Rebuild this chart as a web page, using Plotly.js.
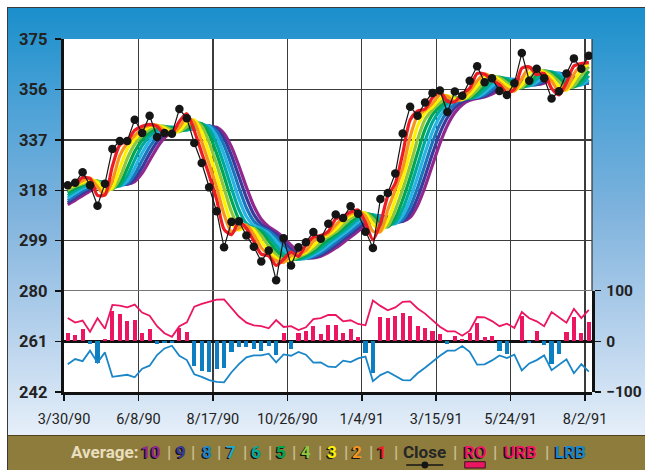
<!DOCTYPE html>
<html>
<head>
<meta charset="utf-8">
<script src="https://cdn.plot.ly/plotly-3.0.1.min.js"></script>
<style>
html,body{margin:0;padding:0;background:#fff;}
#wrap{position:relative;width:645px;height:470px;overflow:hidden;background:#fff;}
#frame{position:absolute;left:7px;top:7px;width:638px;height:428px;box-sizing:border-box;
  border-left:1.5px solid #3a3a3a;border-top:1.5px solid #3a3a3a;
  background:linear-gradient(to bottom,#1a8fcb 0%,#4aa1d6 22%,#7fb3dd 48%,#b2cfeb 74%,#e6eff9 100%);}
#band{position:absolute;left:7px;top:435px;width:638px;height:35px;box-sizing:border-box;
  background:#8e7c3c;border-left:1.5px solid #3a3a3a;border-top:1.5px solid #4d4219;}
#chart{position:absolute;left:0;top:0;width:645px;height:470px;z-index:2;}
</style>
</head>
<body>
<div id="wrap">
  <div id="frame"></div>
  <div id="band"></div>
  <div id="chart"></div>
</div>
<script>
// ---------------- data ----------------
const tickDates  = ['3/30/90','6/8/90','8/17/90','10/26/90','1/4/91','3/15/91','5/24/91','8/2/91'];
const tickWeeks  = [0,10,20,30,40,50,60,70];
const priceTicks = [242,261,280,299,318,337,356,375];
const oscTicks   = [-100,0,100];

// weekly closes before the first visible week (estimated from where the averages start)
const priorClose = [308,307,309,310,311,312,314,316,318,320.5];

// weekly closes, 3/30/90 .. 8/2/91 week
const close = [
  319.9,320.8,324.8,319.9,312.2,320.5,333.6,336.6,336.6,344.6,
  339.6,346.1,338.1,339.6,339.3,348.6,345.1,335.8,328.3,319.1,
  310.1,296.5,306.1,306.3,301.0,296.7,291.2,295.3,284.1,299.9,
  289.7,296.5,298.4,302.3,299.7,305.4,308.9,307.6,312.0,309.2,
  302.4,296.3,314.7,317.0,324.3,339.4,349.5,346.1,351.1,354.7,
  355.6,347.5,355.2,353.6,359.3,364.7,358.7,360.2,355.4,353.9,
  358.3,369.7,359.3,363.8,360.2,352.6,355.3,362.0,367.7,363.8,368.7
];

// Rainbow oscillator (RO) bars
const ro = [
  16.5,12.5,24.4,-5,-43.6,4.6,60.7,54,40,42,
  16.5,24.4,-5,-4,-4,26.4,18.5,-48,-58,-60,
  -54,-52,-21,-10.6,-12,-15,-18.5,-8.6,-26.4,16.5,
  -14.5,17,20.5,30,14.5,32,32,16.5,24.4,8.6,
  -22.4,-63,48,46,50,56,50,30,26.4,20.5,
  14.5,-5,10.6,4.6,16.5,36,8.6,10.6,-18.5,-24.4,
  1,50,-2.6,20.5,-6.6,-45.5,-24.4,18.5,48,16.5,38
];
// upper rainbow band
const urb = [
  46,37,41,19,45.5,25,72,70.6,67,72.6,
  56.8,50.8,30,16,9,30,37.6,68.6,74,78.5,
  82.5,83,65,49,37,31.7,30,25.7,42,28.4,
  30,22.4,27.7,44,46,52,52,39.6,41.6,34.3,
  31.7,80.5,70,61.4,67,78,79,65,54.8,41.6,
  29,19.8,19.8,11.2,21,48,47.5,40,30,35,
  26.4,58,45.5,39.6,30,58,48,37,64,46,62
];
// lower rainbow band
const lrb = [
  -45,-35,-39,-18.5,-42,-21.8,-70,-68.6,-66,-71,
  -54,-48,-27,-14,-8.6,-28.4,-37,-65,-70,-76.6,
  -80,-81,-61,-45,-31.7,-27.7,-27.7,-24.4,-41.6,-25.7,
  -28.4,-21,-26.4,-42,-41.6,-50,-51,-38,-41,-33.7,
  -30,-78.5,-66.7,-60,-68.6,-76.6,-77,-63,-52,-40,
  -28.4,-18.5,-18.5,-9.2,-20.5,-46,-45.5,-37.6,-27.7,-33,
  -26.4,-57.4,-43.6,-37,-27.7,-56.8,-46,-35.6,-63,-45,-60
];

const avgNames  = ['1','2','3','4','5','6','7','8','9','10'];
const avgColors = ['#ed1c24','#f7941d','#fff200','#8dc63f','#00a651','#00a99d','#27b4e3','#1b75bc','#3b3a98','#92278f'];

// ---------------- rainbow averages (recursive 2-period averages of the close) ----------------
const fullClose = priorClose.concat(close);
const averages = [];
let prev = fullClose;
for (let n = 0; n < 10; n++) {
  const cur = prev.map((v, i) => i === 0 ? v : (v + prev[i - 1]) / 2);
  averages.push(cur.slice(priorClose.length));
  prev = cur;
}

const weekPos = close.map((_, i) => i + 0.5);

// ---------------- styles ----------------
const FONT = 'Roboto,"Liberation Sans",sans-serif';
const PINK = '#ec1561', BLUE = '#0b7fc2', LBLUE = '#1a86c8';

const traces = [];
for (let n = 9; n >= 0; n--) {
  traces.push({
    x: weekPos, y: averages[n], name: 'Average ' + avgNames[n],
    type: 'scatter', mode: 'lines', xaxis: 'x', yaxis: 'y',
    line: {color: avgColors[n], width: 3.2, shape: 'spline', smoothing: 0.7},
    hoverinfo: 'skip'
  });
}
traces.push({
  x: weekPos, y: close, name: 'Close', type: 'scatter', mode: 'lines+markers',
  xaxis: 'x', yaxis: 'y',
  line: {color: '#151515', width: 1.2},
  marker: {color: '#151515', size: 8.5},
  hoverinfo: 'skip'
});
traces.push({
  x: weekPos, y: ro, name: 'RO', type: 'bar', xaxis: 'x', yaxis: 'y2', width: 0.56,
  marker: {color: ro.map(v => v >= 0 ? PINK : BLUE), line: {width: 0}},
  hoverinfo: 'skip'
});
traces.push({
  x: weekPos, y: urb, name: 'URB', type: 'scatter', mode: 'lines', xaxis: 'x', yaxis: 'y2',
  line: {color: PINK, width: 1.8}, hoverinfo: 'skip'
});
traces.push({
  x: weekPos, y: lrb, name: 'LRB', type: 'scatter', mode: 'lines', xaxis: 'x', yaxis: 'y2',
  line: {color: LBLUE, width: 1.8}, hoverinfo: 'skip'
});

// pixel -> paper helpers (plot area 64..591.7 x 39.3..392.3)
const PL = 64, PW = 527.7, PT = 39.3, PH = 353;
const xp = px => (px - PL) / PW;
const yp = py => (PT + PH - py) / PH;

// legend row
const SH = '-1.5px 1px 0px #141414';
const SEP = '#cbbf90';
const legendItems = [
  {t: 'Average:', x: 104, c: '#e9dfbf'},
  {t: '10', x: 151, c: '#92278f'},
  {t: '|', x: 168.7, c: SEP},
  {t: '9', x: 180.7, c: '#3b3a98'},
  {t: '|', x: 193.4, c: SEP},
  {t: '8', x: 206.6, c: '#1b86cc'},
  {t: '|', x: 219.3, c: SEP},
  {t: '7', x: 230.5, c: '#27a9c9'},
  {t: '|', x: 244.9, c: SEP},
  {t: '6', x: 255.9, c: '#00a99d'},
  {t: '|', x: 269.5, c: SEP},
  {t: '5', x: 281, c: '#00a651'},
  {t: '|', x: 294.2, c: SEP},
  {t: '4', x: 306.2, c: '#8dc63f'},
  {t: '|', x: 320.2, c: SEP},
  {t: '3', x: 332.1, c: '#fff200'},
  {t: '|', x: 345.7, c: SEP},
  {t: '2', x: 357.2, c: '#f7941d'},
  {t: '|', x: 370.4, c: SEP},
  {t: '1', x: 382.3, c: '#ed1c24'},
  {t: '|', x: 395.9, c: SEP},
  {t: 'Close', x: 424.5, c: '#262626'},
  {t: '|', x: 454.7, c: SEP},
  {t: 'RO', x: 474.9, c: PINK},
  {t: '|', x: 495, c: SEP},
  {t: 'URB', x: 520.6, c: PINK},
  {t: '|', x: 546.5, c: SEP},
  {t: 'LRB', x: 569.8, c: '#1b86cc'}
];
const annotations = legendItems.map(it => ({
  text: it.t, xref: 'paper', yref: 'paper', x: xp(it.x), y: yp(452),
  xanchor: 'center', yanchor: 'middle', showarrow: false,
  font: {family: FONT, size: 17, weight: 'bold', color: it.c,
         shadow: (it.t === '|' || it.t === 'Close' || it.t === 'Average:') ? 'none' : SH}
}));

const shapes = [
  {type: 'line', xref: 'paper', yref: 'paper', x0: 1, x1: 1, y0: 0, y1: 1,
   line: {color: '#333', width: 1.2}, layer: 'below'},
  {type: 'line', xref: 'paper', yref: 'paper', x0: xp(406), x1: xp(443), y0: yp(465.3), y1: yp(465.3),
   line: {color: '#151515', width: 1.5}},
  {type: 'circle', xref: 'paper', yref: 'paper', x0: xp(421.3), x1: xp(428.1), y0: yp(461.9), y1: yp(468.7),
   fillcolor: '#151515', line: {color: '#151515', width: 0}},
  {type: 'rect', xref: 'paper', yref: 'paper', x0: xp(464.5), x1: xp(485), y0: yp(468.3), y1: yp(462),
   fillcolor: PINK, line: {color: '#3a1420', width: 1}}
];

const layout = {
  width: 645, height: 470,
  margin: {l: 64, r: 645 - 591.7, t: 39.3, b: 470 - 392.3, pad: 0},
  paper_bgcolor: 'rgba(0,0,0,0)', plot_bgcolor: '#ffffff',
  showlegend: false, hovermode: false, bargap: 0,
  xaxis: {
    range: [0, 70.93], tickmode: 'array', tickvals: tickWeeks, ticktext: tickDates,
    showgrid: true, gridcolor: '#3c3c3c', gridwidth: 1.3, zeroline: false,
    showline: true, linecolor: '#111', linewidth: 3.2,
    ticks: 'outside', ticklen: 6, tickwidth: 1.5, tickcolor: '#111',
    ticklabelstandoff: 5,
    tickfont: {family: FONT, size: 14.5, color: '#222'}, fixedrange: true, anchor: 'y'
  },
  yaxis: {
    range: [242, 375], tickmode: 'array', tickvals: priceTicks,
    showgrid: true, gridcolor: '#3c3c3c', gridwidth: 1.3, zeroline: false,
    showline: true, linecolor: '#111', linewidth: 3.2,
    ticks: 'outside', ticklen: 6, tickwidth: 1.5, tickcolor: '#111',
    ticklabelstandoff: 4,
    tickfont: {family: FONT, size: 16.5, weight: 'bold', color: '#222'}, fixedrange: true, anchor: 'x'
  },
  yaxis2: {
    domain: [0, (392.3 - 291) / 353], range: [-100, 100], anchor: 'x', side: 'right',
    tickmode: 'array', tickvals: oscTicks, showgrid: false,
    zeroline: true, zerolinecolor: '#111', zerolinewidth: 2.6,
    showline: true, linecolor: '#111', linewidth: 3.2,
    ticks: 'outside', ticklen: 6, tickwidth: 1.5, tickcolor: '#111',
    ticklabelstandoff: 2,
    tickfont: {family: FONT, size: 15.5, weight: 'bold', color: '#222'}, fixedrange: true
  },
  annotations: annotations,
  shapes: shapes
};

Plotly.newPlot('chart', traces, layout, {staticPlot: true, displayModeBar: false});
</script>
</body>
</html>
